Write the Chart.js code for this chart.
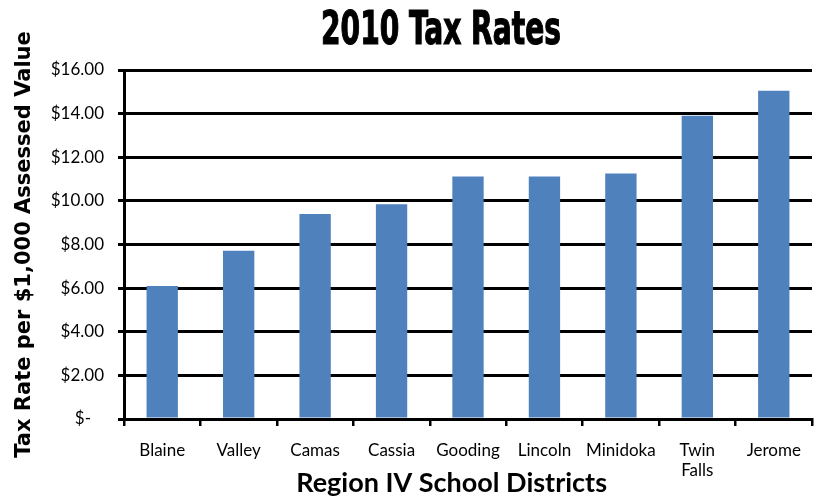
<!DOCTYPE html>
<html>
<head>
<meta charset="utf-8">
<script src="https://cdn.jsdelivr.net/npm/chart.js@4"></script>
<style>
    html, body { margin: 0; padding: 0; background: #fff; }
    #grafico-container { width: 817px; height: 499px; position: relative; }
</style>
</head>
<body>
<div id="grafico-container">
    <canvas id="graficoTaxas"></canvas>
</div>
<script>
const distritos = ['Blaine', 'Valley', 'Camas', 'Cassia', 'Gooding', 'Lincoln', 'Minidoka', ['Twin', 'Falls'], 'Jerome'];
const taxas = [6.10, 7.71, 9.40, 9.84, 11.12, 11.12, 11.25, 13.90, 15.05];
const marcasY = [0, 2, 4, 6, 8, 10, 12, 14, 16];

// titulo com fonte condensada (tipo Impact), desenhado direto no canvas
const tituloCondensado = {
    id: 'tituloCondensado',
    afterDraw(chart) {
        const ctx = chart.ctx;
        const texto = '2010 Tax Rates';
        ctx.save();
        ctx.font = 'bold 47px "DejaVu Sans Condensed", "DejaVu Sans"';
        ctx.fillStyle = '#000';
        ctx.textBaseline = 'alphabetic';
        ctx.textAlign = 'center';
        const largura = ctx.measureText(texto).width;
        const escala = 240 / largura;
        ctx.translate(441, 44);
        ctx.scale(escala, 1.0);
        ctx.lineWidth = 1.2;
        ctx.strokeStyle = '#000';
        ctx.fillText(texto, 0, 0);
        ctx.strokeText(texto, 0, 0);
        ctx.restore();
    }
};

function criarGrafico() {
    const ctx = document.getElementById('graficoTaxas').getContext('2d');

    new Chart(ctx, {
        type: 'bar',
        data: {
            labels: distritos,
            datasets: [{
                label: 'Tax Rate',
                data: taxas,
                backgroundColor: '#4F81BD',
                borderWidth: 0,
                categoryPercentage: 1.0,
                barPercentage: 0.41
            }]
        },
        options: {
            responsive: true,
            maintainAspectRatio: false,
            animation: false,
            layout: { padding: { top: 70, right: 5, left: 12, bottom: 0 } },
            plugins: {
                legend: { display: false },
                tooltip: { enabled: false }
            },
            scales: {
                x: {
                    grid: {
                        offset: true,
                        drawOnChartArea: false,
                        drawTicks: true,
                        tickLength: 7,
                        color: '#000',
                        lineWidth: 2.5
                    },
                    border: { color: '#000', width: 3 },
                    ticks: {
                        color: '#000',
                        font: { family: 'Lato', size: 17 },
                        padding: 14,
                        maxRotation: 0,
                        autoSkip: false
                    },
                    title: {
                        display: true,
                        text: 'Region IV School Districts     ',
                        color: '#000',
                        font: { family: 'Lato', size: 27, weight: 'bold' },
                        padding: { top: 0, bottom: 0 }
                    },
                    afterFit(scale) { scale.height = 80; }
                },
                y: {
                    min: 0,
                    max: 16,
                    afterBuildTicks(scale) {
                        scale.ticks = marcasY.map(v => ({ value: v }));
                    },
                    grid: {
                        color: '#000',
                        lineWidth: 3,
                        drawTicks: true,
                        tickLength: 6
                    },
                    border: { color: '#000', width: 3 },
                    ticks: {
                        color: '#000',
                        font: { family: 'Lato', size: 17 },
                        padding: 14,
                        callback: v => v === 0 ? '$-   ' : '$' + v.toFixed(2)
                    },
                    title: {
                        display: true,
                        text: 'Tax Rate per $1,000 Assessed Value',
                        color: '#000',
                        font: { family: 'DejaVu Sans', size: 21, weight: 'bold' },
                        padding: { top: 0, bottom: 4 }
                    },
                    afterFit(scale) { scale.width = 112; }
                }
            }
        },
        plugins: [tituloCondensado]
    });
}

window.onload = criarGrafico;
</script>
</body>
</html>
